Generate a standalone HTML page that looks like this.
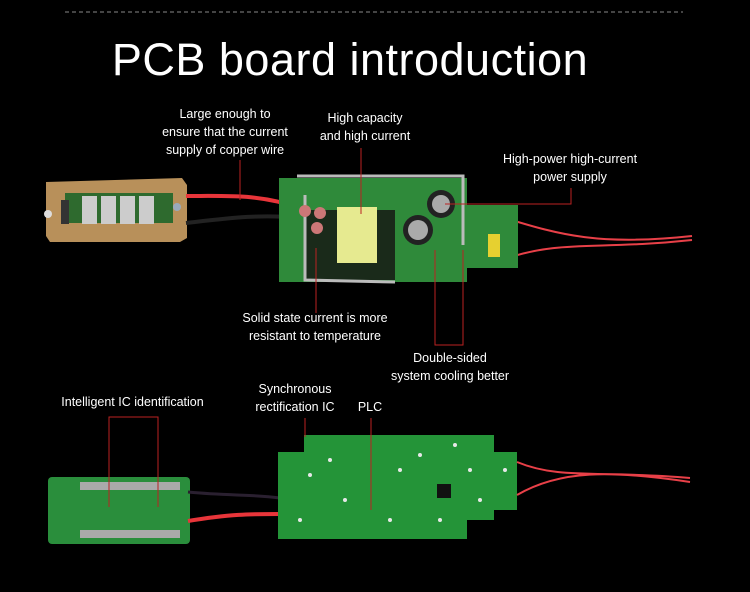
<!DOCTYPE html>
<html><head><meta charset="utf-8"><style>
html,body{margin:0;padding:0;background:#000;}
body{width:750px;height:592px;overflow:hidden;position:relative;font-family:"Liberation Sans",sans-serif;}
.t{position:absolute;color:#fff;font-size:12.5px;text-align:center;line-height:18px;white-space:nowrap;}
</style></head><body>
<svg width="750" height="592" style="position:absolute;left:0;top:0">
<line x1="65" y1="12" x2="683" y2="12" stroke="#888" stroke-width="1" stroke-dasharray="4,3"/>
<path d="M46 182 L182 178 L187 185 L187 238 L180 242 L50 242 L46 236 Z" fill="#b8905a"/>
<rect x="65" y="193" width="108" height="30" fill="#2e6a2e"/>
<rect x="61" y="200" width="8" height="24" fill="#333"/>
<g fill="#ccc"><rect x="82" y="196" width="15" height="28"/><rect x="101" y="196" width="15" height="28"/><rect x="120" y="196" width="15" height="28"/><rect x="139" y="196" width="15" height="28"/></g>
<circle cx="48" cy="214" r="4" fill="#ddd"/><circle cx="177" cy="207" r="4" fill="#9ab"/>
<path d="M186 196 C230 196 260 194 300 208" stroke="#e8353a" stroke-width="4" fill="none"/>
<path d="M186 223 C230 218 260 214 300 218" stroke="#222" stroke-width="4" fill="none"/>
<path d="M505 218 C560 235 600 246 692 236 M508 258 C560 240 600 250 692 240" stroke="#e84048" stroke-width="2" fill="none"/>
<rect x="279" y="178" width="188" height="104" fill="#2f8a3a"/>
<rect x="467" y="205" width="51" height="63" fill="#2f8a3a"/>
<rect x="305" y="210" width="90" height="70" fill="#1a2a1a"/>
<path d="M297 176 L463 176 L463 245 M305 195 L305 280 L395 282" stroke="#bbb" stroke-width="3" fill="none"/>
<rect x="337" y="207" width="40" height="56" fill="#e6ea90"/>
<circle cx="441" cy="204" r="14" fill="#222"/><circle cx="441" cy="204" r="9" fill="#aaa"/>
<circle cx="418" cy="230" r="15" fill="#222"/><circle cx="418" cy="230" r="10" fill="#aaa"/>
<circle cx="305" cy="211" r="6" fill="#c77"/><circle cx="320" cy="213" r="6" fill="#c77"/><circle cx="317" cy="228" r="6" fill="#c77"/>
<rect x="488" y="234" width="12" height="23" fill="#e6d030"/>
<rect x="48" y="477" width="142" height="67" rx="4" fill="#2a8e3c"/>
<rect x="80" y="482" width="100" height="8" fill="#aaa"/><rect x="80" y="530" width="100" height="8" fill="#aaa"/>
<path d="M188 492 C230 496 250 494 280 498" stroke="#2a2030" stroke-width="3" fill="none"/>
<path d="M188 521 C230 514 250 514 280 514" stroke="#e8353a" stroke-width="4" fill="none"/>
<path d="M278 452 L304 452 L304 435 L494 435 L494 452 L517 452 L517 510 L494 510 L494 520 L467 520 L467 539 L278 539 Z" fill="#249438"/>
<g fill="#e8e8e8"><circle cx="310" cy="475" r="2"/><circle cx="330" cy="460" r="2"/><circle cx="345" cy="500" r="2"/><circle cx="400" cy="470" r="2"/><circle cx="420" cy="455" r="2"/><circle cx="470" cy="470" r="2"/><circle cx="480" cy="500" r="2"/><circle cx="440" cy="520" r="2"/><circle cx="390" cy="520" r="2"/><circle cx="300" cy="520" r="2"/><circle cx="455" cy="445" r="2"/><circle cx="505" cy="470" r="2"/></g>
<rect x="437" y="484" width="14" height="14" fill="#111"/>
<path d="M517 462 C560 480 600 470 690 478 M517 495 C560 470 610 470 690 482" stroke="#e84048" stroke-width="2" fill="none"/>
<g stroke="#b22" stroke-width="1" fill="none">
<line x1="240" y1="160" x2="240" y2="200"/>
<line x1="361" y1="148" x2="361" y2="214"/>
<polyline points="571,188 571,204 445,204"/>
<line x1="316" y1="248" x2="316" y2="313"/>
<polyline points="435,250 435,345 463,345 463,250"/>
<polyline points="109,507 109,417 158,417 158,507"/>
<line x1="305" y1="418" x2="305" y2="437"/>
<line x1="371" y1="418" x2="371" y2="510"/>
</g>
</svg>
<div class="t" style="left:0;width:700px;top:33px;font-size:45px;line-height:54px;letter-spacing:0.5px;">PCB board introduction</div>
<div class="t" style="left:140px;width:170px;top:105px;">Large enough to<br>ensure that the current<br>supply of copper wire</div>
<div class="t" style="left:300px;width:130px;top:109px;">High capacity<br>and high current</div>
<div class="t" style="left:480px;width:180px;top:150px;">High-power high-current<br>power supply</div>
<div class="t" style="left:220px;width:190px;top:309px;">Solid state current is more<br>resistant to temperature</div>
<div class="t" style="left:370px;width:160px;top:349px;">Double-sided<br>system cooling better</div>
<div class="t" style="left:40px;width:185px;top:393px;">Intelligent IC identification</div>
<div class="t" style="left:240px;width:110px;top:380px;">Synchronous<br>rectification IC</div>
<div class="t" style="left:350px;width:40px;top:398px;">PLC</div>
</body></html>
